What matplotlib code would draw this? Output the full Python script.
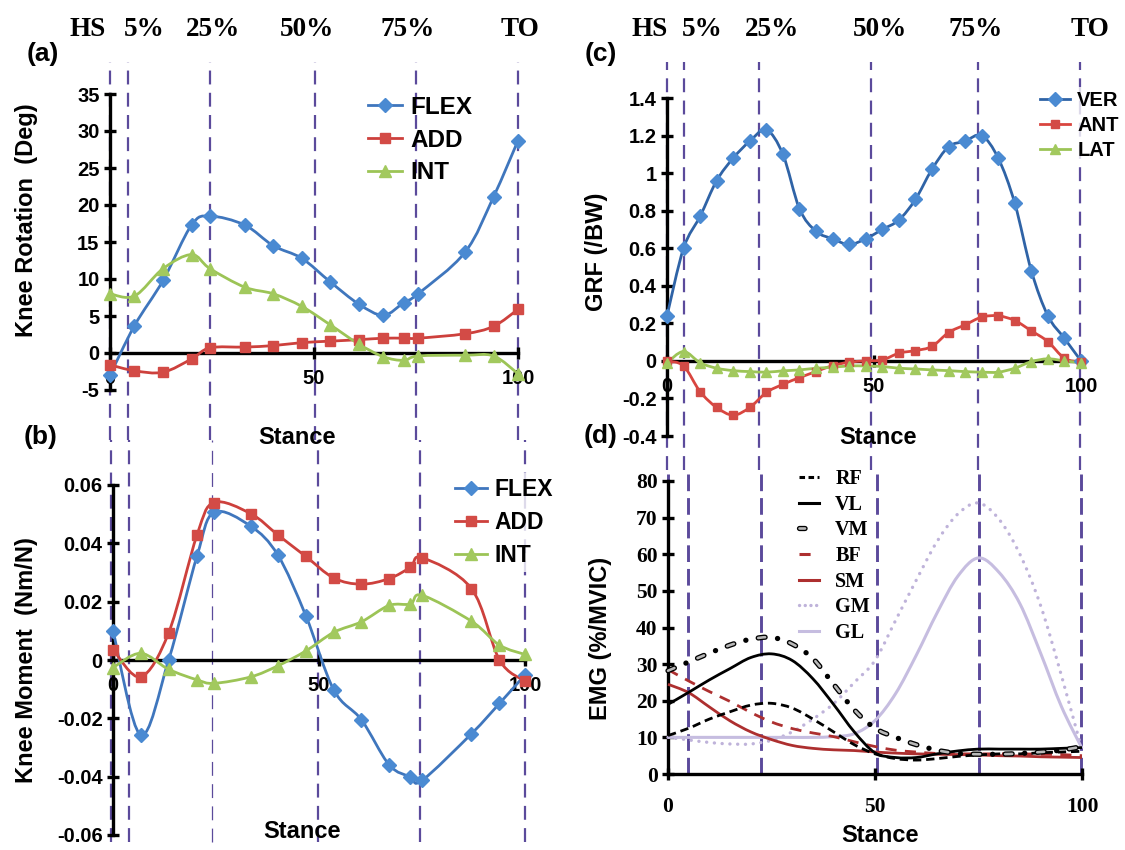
import numpy as np
import matplotlib
matplotlib.use('Agg')
import matplotlib.pyplot as plt
from matplotlib.path import Path
from matplotlib.patches import PathPatch
from matplotlib.lines import Line2D

plt.rcParams['font.family'] = ['Liberation Sans', 'DejaVu Sans']
plt.rcParams['font.weight'] = 'bold'
plt.rcParams['lines.scale_dashes'] = False
plt.rcParams['axes.unicode_minus'] = False

# ---- (a) knee rotation, deg ----
stance_a = [0, 6, 13, 20, 24.5, 33, 40, 47, 54, 61, 67, 72, 75.5, 87, 94, 100]
rot_flex = [-3.0, 3.7, 9.8, 17.3, 18.5, 17.3, 14.5, 12.8, 9.6, 6.6, 5.1, 6.8, 8.0, 13.6, 21.1, 28.7]
rot_add = [-1.6, -2.4, -2.6, -0.8, 0.7, 0.8, 1.0, 1.4, 1.6, 1.8, 2.0, 2.0, 2.0, 2.6, 3.6, 5.9]
rot_int = [8.0, 7.7, 11.4, 13.3, 11.4, 8.9, 8.0, 6.3, 3.8, 1.2, -0.5, -1.0, -0.4, -0.3, -0.4, -2.8]

# ---- (b) knee moment, Nm/N ----
stance_b = [0, 6.7, 13.5, 20.4, 24.5, 33.4, 40, 46.8, 53.6, 60.3, 67, 72.2, 75, 87, 93.8, 100]
mom_flex = [0.010, -0.0257, 0.0, 0.0357, 0.0506, 0.0459, 0.0360, 0.0152, -0.0103, -0.0205,
            -0.0359, -0.0401, -0.0413, -0.0253, -0.0149, -0.0051]
mom_add = [0.0036, -0.0058, 0.0093, 0.0429, 0.0540, 0.0502, 0.0429, 0.0355, 0.0281, 0.0260,
           0.0279, 0.0318, 0.0351, 0.0245, 0.0, -0.0072]
mom_int = [-0.0026, 0.0023, -0.0032, -0.0068, -0.0080, -0.0058, -0.0020, 0.0031, 0.0095, 0.0131,
           0.0187, 0.0192, 0.0222, 0.0133, 0.0051, 0.0019]

# ---- (c) ground reaction force, /BW ----
stance_c = [0, 4, 8, 12, 16, 20, 24, 28, 32, 36, 40, 44, 48, 52, 56, 60, 64, 68, 72, 76,
            80, 84, 88, 92, 96, 100]
grf_ver = [0.24, 0.60, 0.77, 0.96, 1.08, 1.17, 1.23, 1.10, 0.81, 0.69, 0.65, 0.62, 0.65, 0.70,
           0.75, 0.86, 1.02, 1.14, 1.17, 1.20, 1.08, 0.84, 0.48, 0.24, 0.12, 0.0]
grf_ant = [0.0, -0.027, -0.164, -0.248, -0.289, -0.248, -0.168, -0.125, -0.089, -0.057, -0.025,
           -0.007, 0.0, 0.005, 0.041, 0.055, 0.077, 0.151, 0.192, 0.233, 0.240, 0.215, 0.160,
           0.103, 0.014, -0.008]
grf_lat = [-0.01, 0.05, -0.01, -0.039, -0.052, -0.057, -0.06, -0.053, -0.048, -0.039, -0.034,
           -0.027, -0.027, -0.03, -0.039, -0.043, -0.048, -0.052, -0.057, -0.06, -0.06, -0.039,
           -0.004, 0.011, 0.0, -0.01]

# ---- (d) EMG, %MVIC ----
stance_d = [0, 5, 10, 15, 20, 25, 30, 35, 40, 45, 50, 55, 60, 65, 70, 75, 80, 85, 90, 95, 100]
emg_rf = [10.5, 12.5, 15.0, 17.0, 18.8, 19.3, 18.0, 15.0, 11.5, 8.0, 5.5, 4.2, 3.8, 4.2, 4.8,
          5.2, 5.5, 5.5, 5.8, 6.0, 6.2]
emg_vl = [19.0, 22.3, 25.7, 28.8, 31.8, 32.8, 31.0, 26.0, 19.0, 11.5, 5.8, 4.5, 4.5, 5.5, 6.3,
          6.8, 6.8, 6.8, 6.8, 7.0, 7.2]
emg_vm = [28.2, 30.6, 33.0, 35.2, 36.8, 37.3, 35.5, 31.5, 24.5, 17.5, 12.5, 10.0, 8.0, 6.5, 5.6,
          5.4, 5.4, 5.6, 6.0, 6.5, 7.5]
emg_bf = [28.5, 25.4, 22.5, 19.8, 16.8, 14.2, 12.4, 11.2, 10.2, 8.8, 7.5, 6.5, 6.0, 5.6, 5.5,
          5.5, 5.5, 5.5, 5.4, 5.3, 5.0]
emg_sm = [24.5, 22.2, 18.3, 14.5, 11.5, 9.4, 7.8, 7.0, 6.6, 6.4, 6.0, 5.7, 5.5, 5.4, 5.3, 5.2,
          5.0, 4.9, 4.7, 4.6, 4.5]
emg_gm = [10.0, 9.3, 8.6, 8.2, 8.2, 9.2, 11.5, 15.0, 19.2, 25.0, 31.0, 42.0, 53.0, 63.5, 71.0,
          74.0, 69.5, 60.0, 46.0, 27.0, 6.5]
emg_gl = [10.0, 10.0, 10.0, 10.0, 10.0, 10.0, 10.0, 10.0, 10.2, 11.0, 14.6, 22.0, 32.5, 44.0,
          54.0, 59.0, 55.0, 46.5, 33.0, 18.5, 7.0]

# gait events along the top
event_labels = ['HS', '5%', '25%', '50%', '75%', 'TO']
events_a = [0, 4.4, 24.6, 50.2, 74.9, 100]
events_b = [-0.5, 4.0, 24.1, 49.7, 74.6, 100]
events_c = [0, 4.1, 22.3, 49.2, 75, 99.8]
events_d = [0, 4.8, 22.4, 50.4, 75, 99.8]

W, H = 1125, 850
fig = plt.figure(figsize=(W / 100, H / 100), dpi=100)


def px_axes(left, top, right, bottom):
    return fig.add_axes([left / W, 1 - bottom / H, (right - left) / W, (bottom - top) / H])


def ftext(x, y, s, **kw):
    fig.text(x / W, 1 - y / H, s, **kw)


def smooth_path(x, y):
    # excel-like smoothed line: catmull-rom segments as cubic beziers
    p = np.column_stack([x, y]).astype(float)
    verts = [p[0]]
    codes = [Path.MOVETO]
    n = len(p)
    for i in range(n - 1):
        p0 = p[i - 1] if i > 0 else p[i]
        p1, p2 = p[i], p[i + 1]
        p3 = p[i + 2] if i + 2 < n else p[i + 1]
        verts += [p1 + (p2 - p0) / 6, p2 - (p3 - p1) / 6, p2]
        codes += [Path.CURVE4] * 3
    return Path(verts, codes)


def curve(ax, x, y, color, lw=2.0, ls='-', z=3, cap='butt'):
    patch = PathPatch(smooth_path(x, y), fill=False, ec=color, lw=lw, ls=ls,
                      clip_on=False, zorder=z, capstyle=cap)
    ax.add_patch(patch)


def marked(ax, x, y, lcolor, mcolor, marker, ms):
    curve(ax, x, y, lcolor, lw=2.0)
    ax.plot(x, y, ls='none', marker=marker, mfc=mcolor, mec=mcolor, ms=ms,
            clip_on=False, zorder=4)
    return Line2D([], [], color=lcolor, lw=2.0, marker=marker, mfc=mcolor, mec=mcolor, ms=ms)


def style(ax, ylo, yhi, yticks, ylabels, zero=True, tickfont=None):
    ax.set_xlim(0, 100)
    ax.set_ylim(ylo, yhi)
    ax.patch.set_visible(False)
    for s in ['top', 'right']:
        ax.spines[s].set_visible(False)
    for s in ['left', 'bottom']:
        ax.spines[s].set_linewidth(2.4)
    if zero:
        ax.spines['bottom'].set_position(('data', 0))
    ax.set_xticks([0, 50, 100])
    ax.set_xticklabels(['0', '50', '100'])
    ax.set_yticks(yticks)
    ax.set_yticklabels(ylabels)
    ax.tick_params(direction='inout', length=9, width=2.4, labelsize=14.5, pad=3)
    ax.tick_params(axis='x', pad=7)
    if tickfont:
        for t in ax.get_xticklabels() + ax.get_yticklabels():
            t.set_family(tickfont)
            t.set_fontsize(15.5)


def events(ax, xs, y_top, y_bot, thin=None, lw=1.6, dash=(10, 6)):
    bb = ax.get_position()
    top, bot = 1 - bb.y1, 1 - bb.y0
    ymax = (bot * H - y_top) / ((bot - top) * H)
    ymin = (bot * H - y_bot) / ((bot - top) * H)
    for i, x in enumerate(xs):
        w = 0.9 if thin == i else lw
        ax.axvline(x, ymin=ymin, ymax=ymax, color='#5b4a9b', lw=w, ls=(0, dash),
                   clip_on=False, zorder=1)


blue_l, blue_m = '#3f76bd', '#4a8ad2'
red_l, red_m = '#cd403c', '#d34b46'
green_l, green_m = '#9cc456', '#a2c95e'

# (a)
ax_a = px_axes(110, 94, 518, 390)
style(ax_a, -5, 35, [-5, 0, 5, 10, 15, 20, 25, 30, 35],
      ['-5', '0', '5', '10', '15', '20', '25', '30', '35'])
events(ax_a, events_a, 62, 440)
h = [marked(ax_a, stance_a, rot_flex, blue_l, blue_m, 'D', 7.5),
     marked(ax_a, stance_a, rot_add, red_l, red_m, 's', 6.5),
     marked(ax_a, stance_a, rot_int, green_l, green_m, '^', 8)]
ax_a.legend(h, ['FLEX', 'ADD', 'INT'], loc='upper left', bbox_to_anchor=(368 / W, 1 - 96 / H),
            bbox_transform=fig.transFigure, frameon=False, fontsize=17.5, handlelength=1.4,
            handletextpad=0.35, labelspacing=0.4, borderpad=0, borderaxespad=0)

# (b)
ax_b = px_axes(113, 485, 525, 835)
style(ax_b, -0.06, 0.06, [-0.06, -0.04, -0.02, 0, 0.02, 0.04, 0.06],
      ['-0.06', '-0.04', '-0.02', '0', '0.02', '0.04', '0.06'])
events(ax_b, events_b, 440, 842, thin=2)
h = [marked(ax_b, stance_b, mom_flex, blue_l, blue_m, 'D', 7.5),
     marked(ax_b, stance_b, mom_add, red_l, red_m, 's', 6.5),
     marked(ax_b, stance_b, mom_int, green_l, green_m, '^', 8)]
leg = ax_b.legend(h, ['FLEX', 'ADD', 'INT'], loc='upper left',
                  bbox_to_anchor=(450 / W, 1 - 473 / H), bbox_transform=fig.transFigure,
                  frameon=True, facecolor='white', edgecolor='none', fontsize=16.5,
                  handlelength=1.4, handletextpad=0.35, labelspacing=0.45, borderpad=0.2,
                  borderaxespad=0, fancybox=False)
leg.set_zorder(2)

# (c)
ax_c = px_axes(667, 98, 1081, 436)
style(ax_c, -0.4, 1.4, [-0.4, -0.2, 0, 0.2, 0.4, 0.6, 0.8, 1.0, 1.2, 1.4],
      ['-0.4', '-0.2', '0', '0.2', '0.4', '0.6', '0.8', '1', '1.2', '1.4'])
events(ax_c, events_c, 62, 470)
h = [marked(ax_c, stance_c, grf_ver, '#2f63a6', blue_m, 'D', 7),
     marked(ax_c, stance_c, grf_ant, '#d9453f', red_m, 's', 6),
     marked(ax_c, stance_c, grf_lat, green_l, green_m, '^', 7.5)]
leg = ax_c.legend(h, ['VER', 'ANT', 'LAT'], loc='upper left',
                  bbox_to_anchor=(1036 / W, 1 - 87 / H), bbox_transform=fig.transFigure,
                  frameon=True, facecolor='white', edgecolor='none', fontsize=14.5,
                  handlelength=1.5, handletextpad=0.35, labelspacing=0.3, borderpad=0.2,
                  borderaxespad=0, fancybox=False)
leg.set_zorder(2)

# (d)
ax_d = px_axes(668, 481, 1082, 774)
style(ax_d, 0, 80, [0, 10, 20, 30, 40, 50, 60, 70, 80],
      ['0', '10', '20', '30', '40', '50', '60', '70', '80'], zero=False,
      tickfont='Liberation Serif')
ax_d.tick_params(axis='x', pad=12)
events(ax_d, events_d, 470, 774, lw=2.1, dash=(12, 5))
dark_red = '#ad2f2f'
curve(ax_d, stance_d, emg_gm, '#bfb3da', lw=2.4, ls=(0, (0.1, 5.5)), cap='round')
curve(ax_d, stance_d, emg_gl, '#c6bde0', lw=2.2)
curve(ax_d, stance_d, emg_sm, dark_red, lw=2.0)
curve(ax_d, stance_d, emg_bf, dark_red, lw=2.0, ls=(0, (8, 6)))
curve(ax_d, stance_d, emg_rf, 'black', lw=2.0, ls=(0, (6, 3.5)))
curve(ax_d, stance_d, emg_vl, 'black', lw=2.0)
# VM: grey capsules outlined in black, separated by black dots
curve(ax_d, stance_d, emg_vm, 'black', lw=3.8, ls=(0, (5, 9, 0.1, 9)), cap='round')
curve(ax_d, stance_d, emg_vm, '#b8b8b8', lw=1.9, ls=(0, (5, 18.1)), z=3.5, cap='round')

vm_h = (Line2D([], [], color='black', lw=3.8, ls=(0, (4, 20)), dash_capstyle='round'),
        Line2D([], [], color='#b8b8b8', lw=1.9, ls=(0, (4, 20)), dash_capstyle='round'))
h = [Line2D([], [], color='black', lw=2.2, ls=(0, (4, 2.5))),
     Line2D([], [], color='black', lw=2.2),
     vm_h,
     Line2D([], [], color=dark_red, lw=2.2, ls=(0, (8, 8))),
     Line2D([], [], color=dark_red, lw=2.2),
     Line2D([], [], color='#bfb3da', lw=2.4, ls=(0, (0.1, 4)), dash_capstyle='round'),
     Line2D([], [], color='#c6bde0', lw=2.2)]
ax_d.legend(h, ['RF', 'VL', 'VM', 'BF', 'SM', 'GM', 'GL'], loc='upper left',
            bbox_to_anchor=(799 / W, 1 - 469 / H), bbox_transform=fig.transFigure,
            frameon=False, prop={'family': 'Liberation Serif', 'weight': 'bold', 'size': 14.5},
            handlelength=1.0, handletextpad=0.8, labelspacing=0.28, borderpad=0,
            borderaxespad=0)

# axis titles and panel letters
lab = dict(fontsize=17, fontweight='bold', ha='center', va='center')
ftext(297, 437, 'Stance', **lab)
ftext(302, 832, 'Stance', **lab)
ftext(878, 437, 'Stance', **lab)
ftext(880, 836, 'Stance', **lab)
ftext(27, 220, 'Knee Rotation  (Deg)', rotation=90, **lab)
ftext(27, 660, 'Knee Moment  (Nm/N)', rotation=90, **lab)
ftext(596, 252, 'GRF (/BW)', rotation=90, **lab)
ftext(600, 638, 'EMG (%/MVIC)', rotation=90, **lab)

let = dict(fontsize=19, fontweight='bold', ha='center', va='center')
ftext(43, 54, '(a)', **let)
ftext(41, 437, '(b)', **let)
ftext(601, 54, '(c)', **let)
ftext(601, 436, '(d)', **let)

top = dict(fontsize=19.5, fontweight='bold', ha='center', va='center', family='Liberation Serif')
for s, x in zip(event_labels, [88, 144, 213, 307, 408, 520]):
    ftext(x, 30, s, **top)
for s, x in zip(event_labels, [650, 702, 772, 880, 976, 1090]):
    ftext(x, 30, s, **top)

fig.savefig('out.png', dpi=100)
